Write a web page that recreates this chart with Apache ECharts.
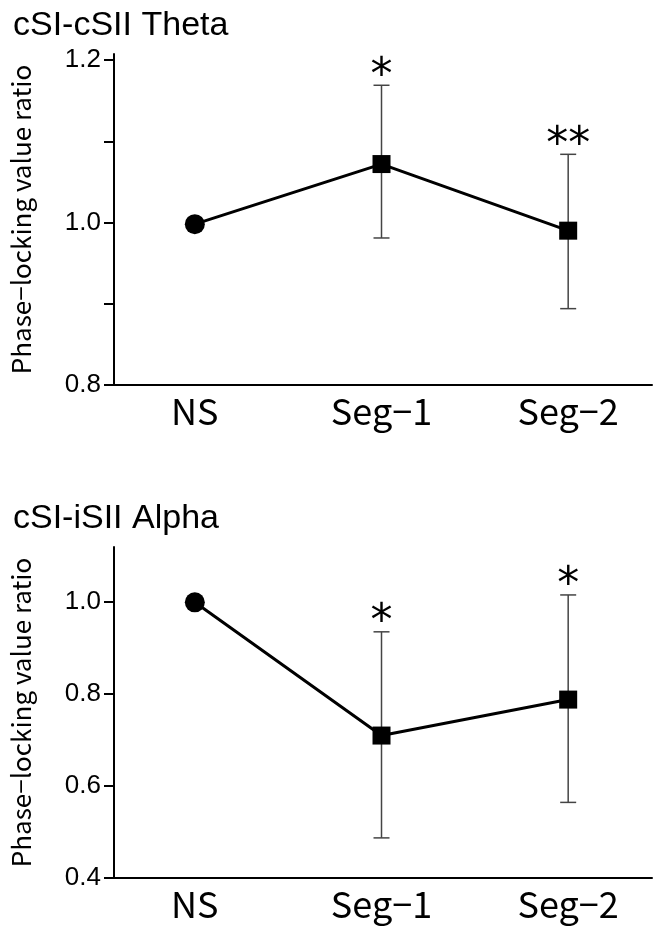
<!DOCTYPE html>
<html>
<head>
<meta charset="utf-8">
<script src="https://cdn.jsdelivr.net/npm/echarts@6/dist/echarts.min.js"></script>
<style>
  html, body { margin: 0; padding: 0; background: #fff; }
  #chart { width: 667px; height: 928px; }
</style>
</head>
<body>
<div id="chart"></div>
<script>
  // categories along the x axis (placed at 0, 1, 2)
  var categories = ["NS", "Seg\u22121", "Seg\u22122"];

  // panel 1: cSI-cSII Theta
  var thetaMean = [0.998, 1.072, 0.990];
  var thetaLow = [null, 0.981, 0.894];
  var thetaHigh = [null, 1.169, 1.084];
  var thetaSig = ["", "*", "**"];
  var thetaTicks = [0.8, 0.9, 1.0, 1.1, 1.2];
  var thetaLabels = [0.8, 1.0, 1.2];

  // panel 2: cSI-iSII Alpha
  var alphaMean = [0.998, 0.709, 0.787];
  var alphaLow = [null, 0.487, 0.564];
  var alphaHigh = [null, 0.934, 1.014];
  var alphaSig = ["", "*", "*"];
  var alphaTicks = [0.4, 0.6, 0.8, 1.0];
  var alphaLabels = [0.4, 0.6, 0.8, 1.0];

  var titles = ["cSI-cSII Theta", "cSI-iSII Alpha"];
  var yName = "Phase\u2212locking value ratio";

  var jpFont = "'Noto Sans CJK JP', 'Noto Sans', sans-serif";
  var numFont = "'Liberation Sans', Arial, sans-serif";
  var starFont = "'DejaVu Sans', sans-serif";

  function buildLine(mean, idx) {
    return {
      type: "line",
      xAxisIndex: idx,
      yAxisIndex: idx,
      z: 5,
      lineStyle: { color: "#000", width: 3 },
      data: mean.map(function(v, i) {
        return {
          value: [i, v],
          symbol: i === 0 ? "circle" : "rect",
          symbolSize: i === 0 ? 20 : 18,
          itemStyle: { color: "#000" }
        };
      })
    };
  }

  function buildErrors(low, high, sig, idx) {
    var rows = [];
    low.forEach(function(lo, i) {
      if (lo != null) {
        rows.push([i, lo, high[i], sig[i]]);
      }
    });
    return {
      type: "custom",
      xAxisIndex: idx,
      yAxisIndex: idx,
      z: 2,
      encode: { x: 0, y: [1, 2] },
      data: rows,
      renderItem: function(params, api) {
        var x = api.value(0);
        var top = api.coord([x, api.value(2)]);
        var bot = api.coord([x, api.value(1)]);
        var half = 8;
        var stroke = { stroke: "#444", lineWidth: 1.5 };
        return {
          type: "group",
          children: [
            { type: "line", shape: { x1: top[0], y1: top[1], x2: bot[0], y2: bot[1] }, style: stroke },
            { type: "line", shape: { x1: top[0] - half, y1: top[1], x2: top[0] + half, y2: top[1] }, style: stroke },
            { type: "line", shape: { x1: bot[0] - half, y1: bot[1], x2: bot[0] + half, y2: bot[1] }, style: stroke },
            {
              type: "text",
              x: top[0],
              y: top[1] - 8,
              style: {
                text: api.value(3),
                fontSize: 44,
                fontFamily: starFont,
                fill: "#000",
                align: "center",
                verticalAlign: "middle"
              }
            }
          ]
        };
      }
    };
  }

  function buildXAxis(idx) {
    return {
      type: "value",
      gridIndex: idx,
      min: -0.433,
      max: 2.449,
      splitLine: { show: false },
      axisLine: { show: true, onZero: false, lineStyle: { color: "#000", width: 2 } },
      axisTick: { show: false },
      axisLabel: {
        customValues: [0, 1, 2],
        formatter: function(v) { return categories[Math.round(v)]; },
        color: "#000",
        fontSize: 36,
        fontFamily: jpFont,
        margin: 8
      }
    };
  }

  function buildYAxis(idx, min, max, ticks, labels) {
    return {
      type: "value",
      gridIndex: idx,
      min: min,
      max: max,
      splitLine: { show: false },
      axisLine: { show: true, onZero: false, lineStyle: { color: "#000", width: 2 } },
      axisTick: {
        show: true,
        customValues: ticks,
        length: 10,
        lineStyle: { color: "#000", width: 2 }
      },
      axisLabel: {
        customValues: labels,
        formatter: function(v) { return v.toFixed(1); },
        color: "#000",
        fontSize: 26,
        fontFamily: numFont,
        margin: 13
      },
      name: yName,
      nameLocation: "middle",
      nameGap: 80,
      nameTextStyle: { color: "#000", fontSize: 26, fontFamily: jpFont }
    };
  }

  var chart = echarts.init(document.getElementById("chart"), null, { renderer: "canvas" });

  chart.setOption({
    animation: false,
    backgroundColor: "#fff",
    title: [
      { text: titles[0], left: 8, top: 4, textStyle: { fontSize: 34, fontWeight: "normal", color: "#000", fontFamily: numFont } },
      { text: titles[1], left: 8, top: 497, textStyle: { fontSize: 34, fontWeight: "normal", color: "#000", fontFamily: numFont } }
    ],
    grid: [
      { left: 113, top: 54, width: 539, height: 331 },
      { left: 113, top: 547, width: 539, height: 331 }
    ],
    xAxis: [buildXAxis(0), buildXAxis(1)],
    yAxis: [
      buildYAxis(0, 0.8, 1.2075, thetaTicks, thetaLabels),
      buildYAxis(1, 0.4, 1.118, alphaTicks, alphaLabels)
    ],
    series: [
      buildErrors(thetaLow, thetaHigh, thetaSig, 0),
      buildLine(thetaMean, 0),
      buildErrors(alphaLow, alphaHigh, alphaSig, 1),
      buildLine(alphaMean, 1)
    ]
  });
</script>
</body>
</html>
